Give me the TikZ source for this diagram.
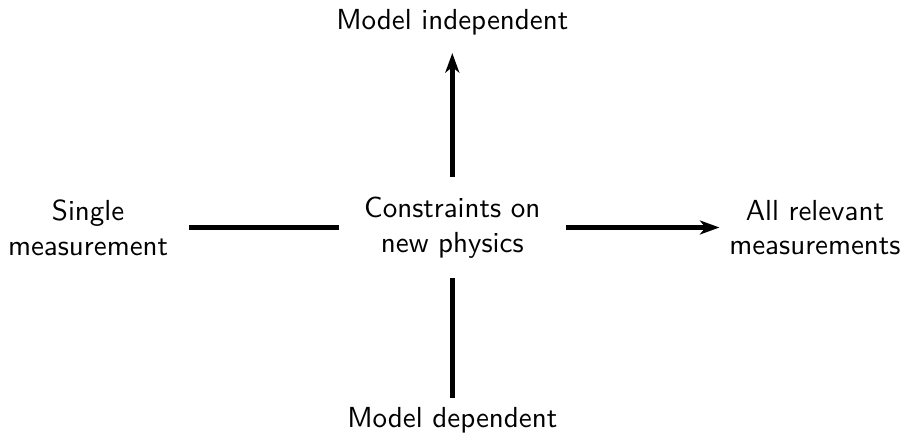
\documentclass[tikz,border=0pt]{standalone}
\usepackage{tikz}
\usetikzlibrary{arrows.meta,positioning}

\begin{document}
\begin{tikzpicture}[
    every node/.style={font=\sffamily\fontsize{10.4}{12.4}\selectfont, align=center},
    hub/.style={inner xsep=9pt, inner ysep=7pt},
    axis/.style={line width=1.7pt},
    axisarrow/.style={-{Stealth[length=7pt, width=5pt, inset=2pt]}, line width=1.7pt}
]
\useasboundingbox (-5.70,-2.665) rectangle (5.68,2.867);

% Centre and the four ends
\node[hub] (constr) at (0,0) {Constraints on\\new physics};
\node (single) at (-4.59,0) {Single\\measurement};
\node (allmeas) at (4.57,0) {All relevant\\measurements};
\node (indep) at (0,2.59) {Model independent};
\node (dep) at (0,-2.43) {Model dependent};

% Axes
\draw[axis] (constr.west) -- ([xshift=4pt]single.east);
\draw[axisarrow] (constr.east) -- (allmeas.west);
\draw[axisarrow] (constr.north) -- ([yshift=-3pt]indep.south);
\draw[axis] (constr.south) -- (dep.north);

\end{tikzpicture}
\end{document}
